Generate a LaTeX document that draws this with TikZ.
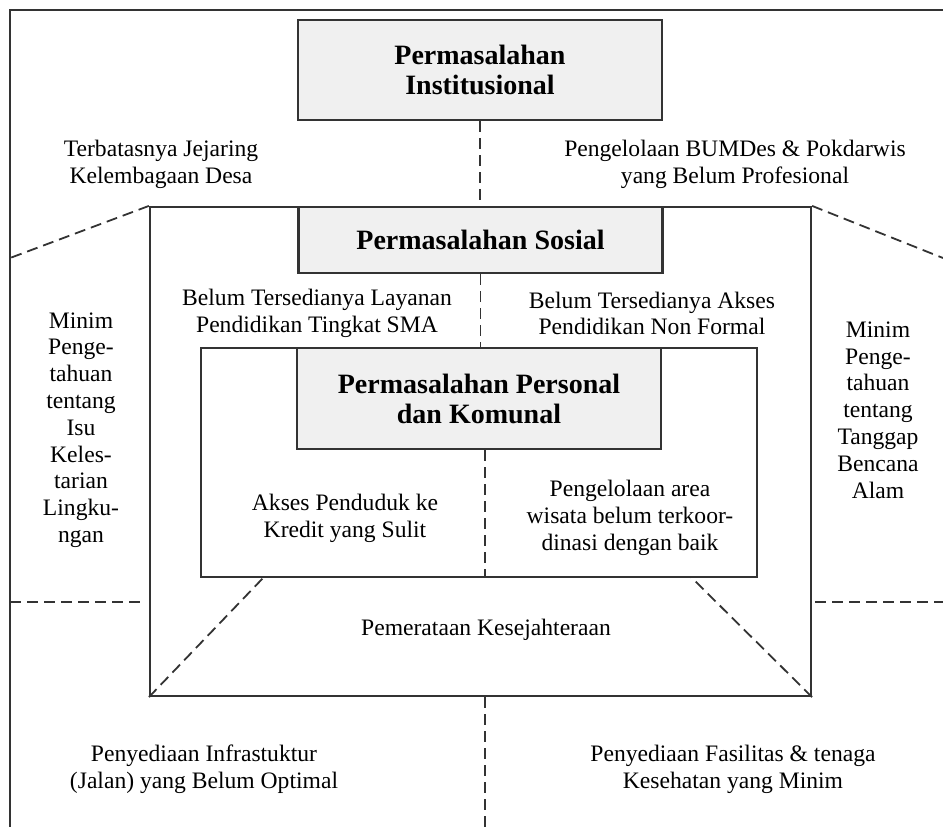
\documentclass[tikz,border=0pt]{standalone}
\usepackage{fontspec}
\setmainfont{Liberation Serif}
\usetikzlibrary{positioning}

\definecolor{linegray}{HTML}{333333}
\definecolor{boxgray}{HTML}{F0F0F0}

\tikzset{
    frame/.style={draw=linegray, line width=1.1pt},
    zone/.style={frame, rectangle, inner sep=0pt},
    headbox/.style={frame, fill=boxgray, inner sep=0pt, minimum width=182pt,
        align=center, font=\fontsize{14}{15}\selectfont\bfseries},
    cut/.style={draw=linegray, line width=0.9pt, dash pattern=on 5.5pt off 3pt},
    issue/.style={align=center, inner sep=0pt, font=\fontsize{11.8}{13.4}\selectfont}
}

\begin{document}
\begin{tikzpicture}[x=0.5pt,y=-0.5pt]
    \useasboundingbox (0,0) rectangle (943,827);
    \draw[frame] (943,10) -- (10,10) -- (10,827);

    \node[zone, minimum width=330.5pt, minimum height=244.5pt] (sosialzone) at (480.5,451.5) {};
    \node[zone, minimum width=278pt, minimum height=114.5pt] (personalzone) at (479,462.5) {};

    \node[headbox, minimum height=50pt] (instbox) at (480,70) {Permasalahan\\Institusional};
    \node[headbox, minimum height=33pt, below=0pt of sosialzone.north] (sosbox) {Permasalahan Sosial};
    \node[headbox, minimum height=50.5pt, below=0pt of personalzone.north] (persbox) {Permasalahan Personal\\dan Komunal};

    % titik ujung garis putus-putus
    \coordinate (cutNW) at (10,258);
    \coordinate (cutNE) at (943,258);
    \coordinate (midW) at (10,602);
    \coordinate (midWend) at (143,602);
    \coordinate (midE) at (815,602);
    \coordinate (midEend) at (943,602);
    \coordinate (lowL) at (264,577);
    \coordinate (lowR) at (691,577);
    \coordinate (bottomend) at (485,827);

    \draw[cut] (instbox.south) -- (sosialzone.north -| instbox.south);
    \draw[cut] (sosbox.south) -- (personalzone.north -| sosbox.south);
    \draw[cut] (persbox.south -| bottomend) -- (personalzone.south -| bottomend);
    \draw[cut] (sosialzone.south -| bottomend) -- (bottomend);
    \draw[cut] (sosialzone.north west) -- (cutNW);
    \draw[cut] (sosialzone.north east) -- (cutNE);
    \draw[cut] (midW) -- (midWend);
    \draw[cut] (midE) -- (midEend);
    \draw[cut] (sosialzone.south west) -- (lowL);
    \draw[cut] (sosialzone.south east) -- (lowR);

    \node[issue] (jejaring) at (161,164.5) {Terbatasnya Jejaring\\Kelembagaan Desa};
    \node[issue] (bumdes) at (735,164.5) {Pengelolaan BUMDes \& Pokdarwis\\yang Belum Profesional};
    \node[issue] (sma) at (317,313.5) {Belum Tersedianya Layanan\\Pendidikan Tingkat SMA};
    \node[issue] (nonformal) at (652,313.5) {Belum Tersedianya Akses\\Pendidikan Non Formal};
    \node[issue] (kredit) at (345,518) {Akses Penduduk ke\\Kredit yang Sulit};
    \node[issue] (wisata) at (630,518) {Pengelolaan area\\wisata belum terkoor-\\dinasi dengan baik};
    \node[issue] (pemerataan) at (486,629.5) {Pemerataan Kesejahteraan};
    \node[issue] (lingkungan) at (81,430) {Minim\\Penge-\\tahuan\\tentang\\Isu\\Keles-\\tarian\\Lingku-\\ngan};
    \node[issue] (bencana) at (878,410) {Minim\\Penge-\\tahuan\\tentang\\Tanggap\\Bencana\\Alam};
    \node[issue] (jalan) at (204,769) {Penyediaan Infrastuktur\\(Jalan) yang Belum Optimal};
    \node[issue] (kesehatan) at (733,769) {Penyediaan Fasilitas \& tenaga\\Kesehatan yang Minim};
\end{tikzpicture}
\end{document}
